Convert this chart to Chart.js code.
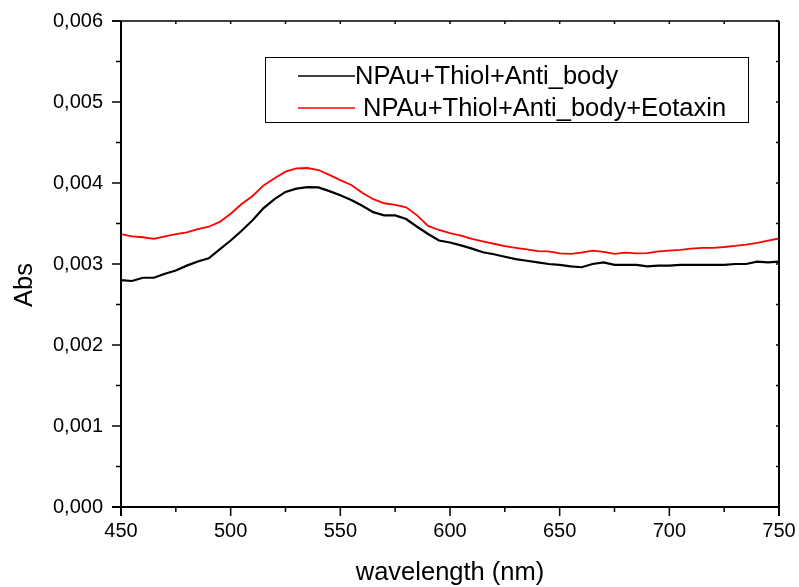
<!DOCTYPE html>
<html>
<head>
<meta charset="utf-8">
<script src="https://cdn.jsdelivr.net/npm/chart.js@4.4.0/dist/chart.umd.min.js"></script>
<style>
  html, body { margin: 0; padding: 0; background: #fff; }
</style>
</head>
<body>
<canvas id="absChart" width="799" height="587"></canvas>
<script>
// wavelength grid (nm) and absorbance
const wavelengths = [450, 455, 460, 465, 470, 475, 480, 485, 490, 495,
  500, 505, 510, 515, 520, 525, 530, 535, 540, 545,
  550, 555, 560, 565, 570, 575, 580, 585, 590, 595,
  600, 605, 610, 615, 620, 625, 630, 635, 640, 645,
  650, 655, 660, 665, 670, 675, 680, 685, 690, 695,
  700, 705, 710, 715, 720, 725, 730, 735, 740, 745, 750];

const absAntibody = [0.00280, 0.00279, 0.00283, 0.00283, 0.00288, 0.00292, 0.00298, 0.00303, 0.00307, 0.00318,
  0.00329, 0.00341, 0.00354, 0.00369, 0.00380, 0.00389, 0.00393, 0.00395, 0.003945, 0.00390,
  0.00385, 0.00379, 0.00372, 0.00364, 0.00360, 0.00360, 0.003555, 0.00346, 0.00337, 0.00329,
  0.003265, 0.00323, 0.00319, 0.003145, 0.00312, 0.00309, 0.00306, 0.00304, 0.00302, 0.00300,
  0.00299, 0.00297, 0.00296, 0.00300, 0.00302, 0.00299, 0.00299, 0.00299, 0.00297, 0.00298,
  0.00298, 0.00299, 0.00299, 0.00299, 0.00299, 0.00299, 0.00300, 0.00300, 0.00303, 0.00302, 0.00303];

const absEotaxin = [0.00337, 0.00334, 0.00333, 0.00331, 0.00334, 0.00337, 0.00339, 0.00343, 0.00346, 0.00352,
  0.00362, 0.00374, 0.00384, 0.00397, 0.00406, 0.00414, 0.00418, 0.004185, 0.00416, 0.00410,
  0.004035, 0.003975, 0.00388, 0.00380, 0.00375, 0.00373, 0.00370, 0.00360, 0.00347, 0.00342,
  0.00338, 0.00335, 0.00331, 0.00328, 0.00325, 0.00322, 0.00320, 0.00318, 0.00316, 0.003155,
  0.00313, 0.003125, 0.00314, 0.003165, 0.00315, 0.003125, 0.00314, 0.00313, 0.003135, 0.003155,
  0.003165, 0.003175, 0.00319, 0.00320, 0.00320, 0.00321, 0.003225, 0.00324, 0.00326, 0.00329, 0.003315];

const seriesNames = ['NPAu+Thiol+Anti_body', 'NPAu+Thiol+Anti_body+Eotaxin'];
const seriesColors = ['#000000', '#ff0000'];
const xTicks = [450, 500, 550, 600, 650, 700, 750];
const yTicks = [0, 0.001, 0.002, 0.003, 0.004, 0.005, 0.006];

const FONT = 'Arial, "Liberation Sans", sans-serif';

function toPoints(ys) {
  return wavelengths.map((w, i) => ({ x: w, y: ys[i] }));
}

// axis frame, minor ticks, legend box and rotated y title
const framePlugin = {
  id: 'frame',
  afterDatasetsDraw(chart) {
    const { ctx, chartArea: a, scales: { x, y } } = chart;
    ctx.save();
    ctx.strokeStyle = '#000';
    ctx.lineCap = 'butt';

    // box
    ctx.lineWidth = 2;
    ctx.beginPath();
    ctx.moveTo(a.left, a.top); ctx.lineTo(a.left, a.bottom + 9);
    ctx.moveTo(a.left - 9, a.bottom); ctx.lineTo(a.right, a.bottom);
    ctx.moveTo(a.right, a.bottom + 9); ctx.lineTo(a.right, a.top);
    ctx.stroke();
    ctx.lineWidth = 1.5;
    ctx.beginPath();
    ctx.moveTo(a.left - 9, a.top); ctx.lineTo(a.right, a.top);
    ctx.stroke();

    // ticks
    ctx.lineWidth = 1.5;
    ctx.beginPath();
    xTicks.forEach((v, i) => {
      const px = x.getPixelForValue(v);
      ctx.moveTo(px, a.bottom); ctx.lineTo(px, a.bottom + 9);
      ctx.moveTo(px, a.top); ctx.lineTo(px, a.top + 3);
      if (i < xTicks.length - 1) {
        const mx = x.getPixelForValue((v + xTicks[i + 1]) / 2);
        ctx.moveTo(mx, a.bottom); ctx.lineTo(mx, a.bottom + 5);
        ctx.moveTo(mx, a.top); ctx.lineTo(mx, a.top + 3);
      }
    });
    yTicks.forEach((v, i) => {
      const py = y.getPixelForValue(v);
      ctx.moveTo(a.left - 9, py); ctx.lineTo(a.left, py);
      ctx.moveTo(a.right, py); ctx.lineTo(a.right - 3, py);
      if (i < yTicks.length - 1) {
        const my = y.getPixelForValue((v + yTicks[i + 1]) / 2);
        ctx.moveTo(a.left - 5, my); ctx.lineTo(a.left, my);
        ctx.moveTo(a.right, my); ctx.lineTo(a.right - 3, my);
      }
    });
    ctx.stroke();

    // legend
    ctx.fillStyle = '#fff';
    ctx.fillRect(265, 57, 483, 65);
    ctx.lineWidth = 1;
    ctx.strokeStyle = '#000';
    ctx.strokeRect(265.5, 57.5, 483, 65);
    const rows = [76, 108];
    const textX = [355, 363];
    ctx.font = '25.5px ' + FONT;
    ctx.textBaseline = 'middle';
    ctx.textAlign = 'left';
    seriesNames.forEach((name, i) => {
      ctx.strokeStyle = seriesColors[i];
      ctx.lineWidth = 1.5;
      ctx.beginPath();
      ctx.moveTo(298, rows[i]); ctx.lineTo(355, rows[i]);
      ctx.stroke();
      ctx.fillStyle = '#000';
      ctx.fillText(name, textX[i], rows[i] + 1);
    });

    // y title
    ctx.translate(25, 285);
    ctx.rotate(-Math.PI / 2);
    ctx.textAlign = 'center';
    ctx.fillText('Abs', 0, 0);
    ctx.restore();
  }
};

new Chart(document.getElementById('absChart').getContext('2d'), {
  type: 'line',
  data: {
    datasets: [
      { label: seriesNames[0], data: toPoints(absAntibody), borderColor: seriesColors[0], borderWidth: 2.2, pointRadius: 0, tension: 0, fill: false },
      { label: seriesNames[1], data: toPoints(absEotaxin), borderColor: seriesColors[1], borderWidth: 1.8, pointRadius: 0, tension: 0, fill: false }
    ]
  },
  options: {
    responsive: false,
    animation: false,
    layout: { padding: { left: 0, top: 21, right: 20, bottom: 0 } },
    plugins: { legend: { display: false }, tooltip: { enabled: false } },
    scales: {
      x: {
        type: 'linear',
        min: 450, max: 750,
        afterFit: s => { s.height = 80; s.paddingLeft = 0; s.paddingRight = 0; },
        grid: { display: false, drawTicks: false },
        border: { display: false },
        ticks: {
          stepSize: 50,
          padding: 12,
          color: '#000',
          font: { family: FONT, size: 20 },
          callback: v => String(v)
        },
        title: {
          display: true,
          text: 'wavelength (nm)',
          color: '#000',
          font: { family: FONT, size: 25.5 },
          padding: { top: 0, bottom: -1 }
        }
      },
      y: {
        min: 0, max: 0.006,
        afterFit: s => { s.width = 121; s.paddingTop = 0; s.paddingBottom = 0; },
        grid: { display: false, drawTicks: false },
        border: { display: false },
        ticks: {
          stepSize: 0.001,
          padding: 18,
          color: '#000',
          font: { family: FONT, size: 20 },
          callback: v => v.toFixed(3).replace('.', ',')
        }
      }
    }
  },
  plugins: [framePlugin]
});
</script>
</body>
</html>
